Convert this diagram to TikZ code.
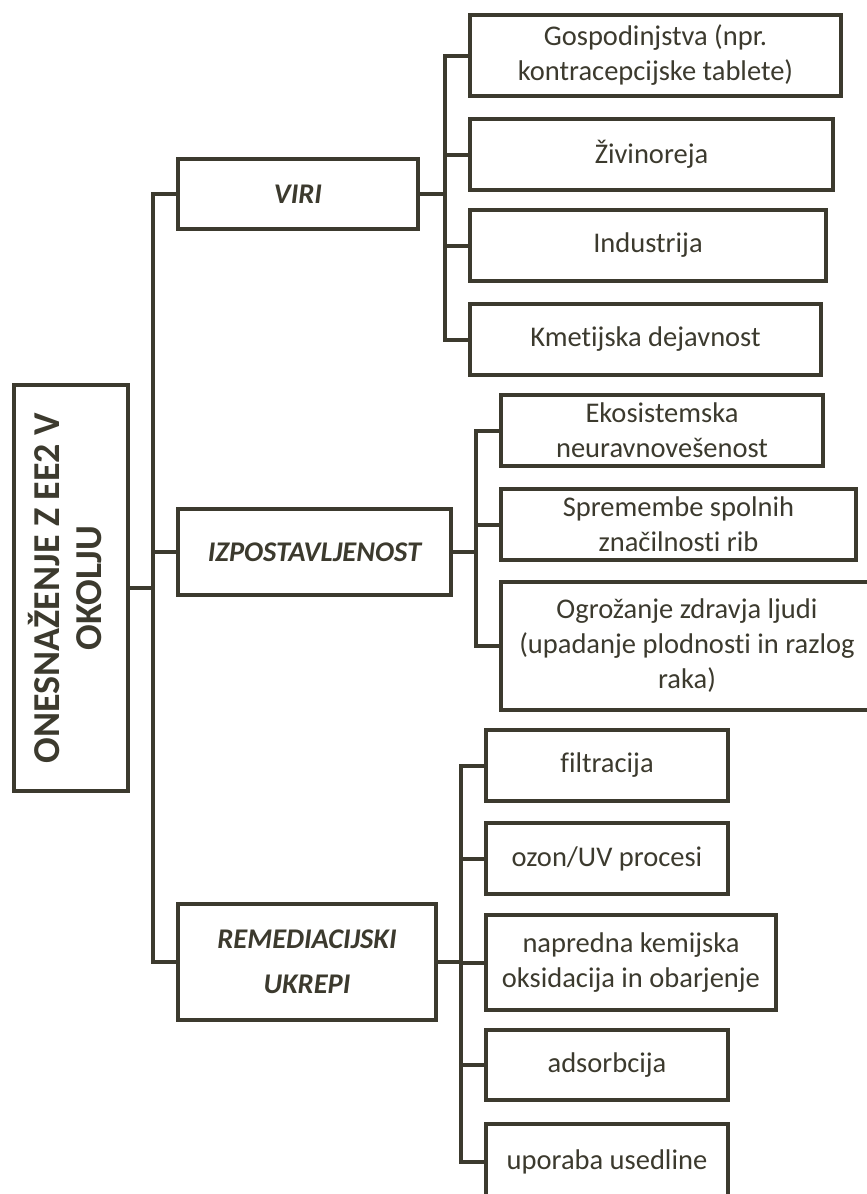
\documentclass[tikz,border=0pt]{standalone}
\usepackage{fontspec}
\setmainfont{Carlito}[RawFeature={-liga;-clig}]
\definecolor{lc}{RGB}{60,58,46}
\begin{document}
\begin{tikzpicture}[x=1pt,y=-1pt,
  box/.style={draw=lc, line width=4pt, inner sep=0pt, align=center, text=lc,
              font=\fontsize{28.5}{35}\selectfont},
  cat/.style={box, font=\fontsize{28.5}{45}\selectfont\bfseries\itshape},
  conn/.style={draw=lc, line width=4pt, line join=miter}]
\useasboundingbox (0,0) rectangle (867,1194);
\clip (0,0) rectangle (867,1194);

% root
\node[box, minimum width=114, minimum height=406] (main) at (71,588)
  {\rotatebox{90}{\fontsize{38}{42}\selectfont\bfseries
   \begin{tabular}{@{}c@{}}ONESNAŽENJE Z EE2 V\\OKOLJU\end{tabular}}};

% categories
\node[cat, minimum width=240, minimum height=70]  (viri) at (298,194) {VIRI};
\node[cat, minimum width=273, minimum height=86]  (izp)  at (314.5,552) {IZPOSTAVLJENOST};
\node[cat, minimum width=258, minimum height=116] (rem)  at (307,962) {REMEDIACIJSKI\\UKREPI};

% VIRI children
\node[box, minimum width=371, minimum height=81] (gosp) at (655.5,55.5) {Gospodinjstva (npr.\\kontracepcijske tablete)};
\node[box, minimum width=363, minimum height=71] (ziv)  at (651.5,154.5) {Živinoreja};
\node[box, minimum width=356, minimum height=71] (ind)  at (648,245.5) {Industrija};
\node[box, minimum width=351, minimum height=71] (kmet) at (645.5,339.5) {Kmetijska dejavnost};

% IZPOSTAVLJENOST children
\node[box, minimum width=322, minimum height=71]  (eko) at (662,430.5) {Ekosistemska\\neuravnovešenost};
\node[box, minimum width=355, minimum height=71]  (spr) at (678.5,524.5) {Spremembe spolnih\\značilnosti rib};
\node[box, minimum width=372, minimum height=128] (ogr) at (687,646) {Ogrožanje zdravja ljudi\\(upadanje plodnosti in razlog\\raka)};

% REMEDIACIJSKI children
\node[box, minimum width=242, minimum height=71] (filt) at (607,765.5) {filtracija};
\node[box, minimum width=242, minimum height=71] (ozon) at (607,858.5) {ozon/UV procesi};
\node[box, minimum width=290, minimum height=95] (napr) at (631,962.5) {napredna kemijska\\oksidacija in obarjenje};
\node[box, minimum width=242, minimum height=70] (ads)  at (607,1065) {adsorbcija};
\node[box, minimum width=242, minimum height=75] (upo)  at (607,1161.5) {uporaba usedline};

% bus x positions
\coordinate (t)  at (153,0);
\coordinate (b1) at (445,0);
\coordinate (b2) at (476,0);
\coordinate (b3) at (461,0);

% trunk
\draw[conn] (main.east) -- (main.east -| t);
\draw[conn] (viri.west) -| (rem.west -| t) -- (rem.west);
\draw[conn] (izp.west) -- (izp.west -| t);

% VIRI bus
\draw[conn] (viri.east) -- (viri.east -| b1);
\draw[conn] (gosp.west) -| (kmet.west -| b1) -- (kmet.west);
\draw[conn] (ziv.west) -- (ziv.west -| b1);
\draw[conn] (ind.west) -- (ind.west -| b1);

% IZPOSTAVLJENOST bus
\draw[conn] (izp.east) -- (izp.east -| b2);
\draw[conn] (eko.west) -| (ogr.west -| b2) -- (ogr.west);
\draw[conn] (spr.west) -- (spr.west -| b2);

% REMEDIACIJSKI bus
\draw[conn] (rem.east) -- (rem.east -| b3);
\draw[conn] (filt.west) -| (upo.west -| b3) -- (upo.west);
\draw[conn] (ozon.west) -- (ozon.west -| b3);
\draw[conn] (napr.west) -- (napr.west -| b3);
\draw[conn] (ads.west) -- (ads.west -| b3);
\end{tikzpicture}
\end{document}
